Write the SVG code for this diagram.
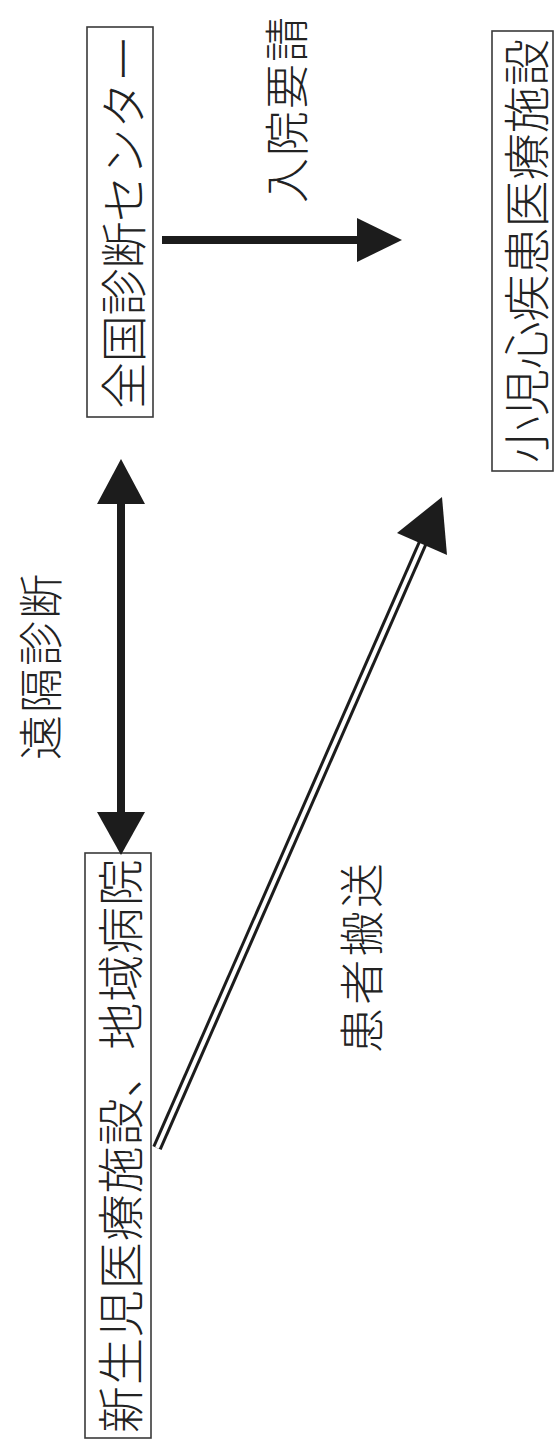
<svg xmlns="http://www.w3.org/2000/svg" width="556" height="1440" viewBox="0 0 556 1440">
<style>
.box{fill:#fff;stroke:#3a3a3a;stroke-width:1.6}
.t{font-family:"Noto Sans CJK JP","Noto Sans CJK SC",sans-serif;font-size:47px;fill:#222;text-anchor:middle;dominant-baseline:central;font-weight:300}
.l{font-size:45px}
.line{stroke:#1c1c1c;stroke-width:8;fill:none}
.head{fill:#1c1c1c}
</style>
<rect width="556" height="1440" fill="#fff"/>
<g id="center">
<rect class="box" x="87" y="27" width="66" height="390"/>
<text class="t" transform="translate(120,222) rotate(-90)" textLength="374" lengthAdjust="spacing">全国診断センター</text>
</g>
<g id="pediatric">
<rect class="box" x="492" y="31" width="61" height="440"/>
<text class="t" transform="translate(523,251) rotate(-90)" textLength="424" lengthAdjust="spacing">小児心疾患医療施設</text>
</g>
<g id="neonatal">
<rect class="box" x="85" y="853" width="66" height="585"/>
<text class="t" transform="translate(117,1146) rotate(-90)" textLength="574" lengthAdjust="spacing">新生児医療施設、地域病院</text>
</g>
<g id="connectors">
<line class="line" x1="162" y1="240" x2="360" y2="240"/>
<polygon class="head" points="357,218 402,240 357,262"/>
<line class="line" x1="121" y1="500" x2="121" y2="815"/>
<polygon class="head" points="97,504 121,459 145,504"/>
<polygon class="head" points="97,812 121,855 145,812"/>
<line x1="157" y1="1148" x2="424" y2="540" stroke="#1c1c1c" stroke-width="10"/>
<line x1="157" y1="1148" x2="424" y2="540" stroke="#fff" stroke-width="4"/>
<polygon class="head" points="442,497 397,533 447,555"/>
</g>
<g id="labels">
<text class="t l" transform="translate(38,667) rotate(-90)" textLength="186" lengthAdjust="spacing">遠隔診断</text>
<text class="t l" transform="translate(284,110) rotate(-90)" textLength="186" lengthAdjust="spacing">入院要請</text>
<text class="t l" transform="translate(359,958) rotate(-90)" textLength="190" lengthAdjust="spacing">患者搬送</text>
</g>
</svg>
